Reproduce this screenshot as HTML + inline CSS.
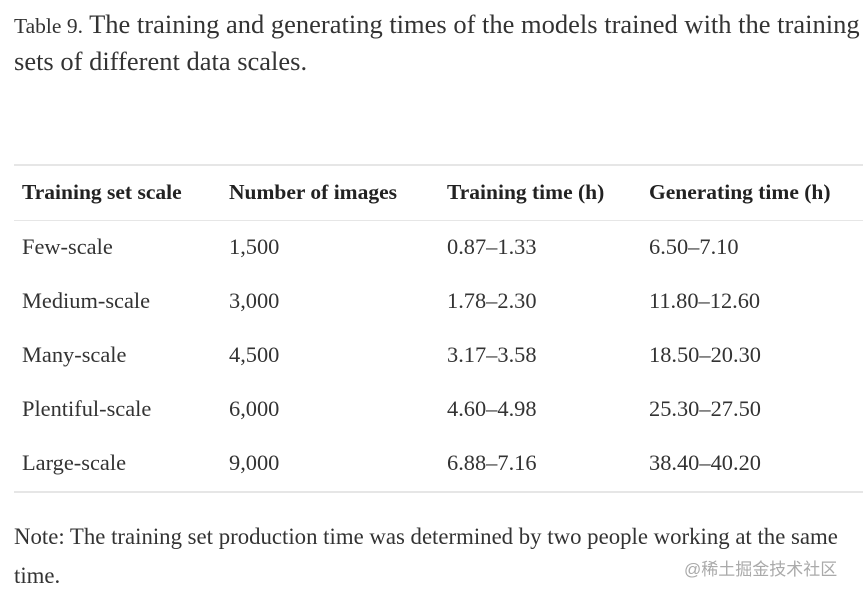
<!DOCTYPE html>
<html><head><meta charset="utf-8"><style>
body{margin:0;background:#fff;width:863px;height:595px;overflow:hidden;position:relative;font-family:"Liberation Serif",serif;color:#333;}
.t{position:absolute;white-space:nowrap;}
.line{position:absolute;left:14px;width:849px;background:#e6e6e6;}
.c{position:absolute;font-size:22.4px;white-space:nowrap;line-height:24px;}
.h{font-weight:bold;color:#222;font-size:21.5px;}
</style></head><body>
<div class="t" style="left:14px;top:7px;font-size:26.5px;line-height:35px;"><span style="font-size:21.5px">Table 9.</span> The training and generating times of the models trained with the training<br>sets of different data scales.</div>
<div class="line" style="top:164px;height:2px"></div>
<div class="line" style="top:220px;height:1px"></div>
<div class="line" style="top:491px;height:2px"></div>
<div class="c h" style="left:22px;top:180px">Training set scale</div>
<div class="c h" style="left:229px;top:180px">Number of images</div>
<div class="c h" style="left:447px;top:180px">Training time (h)</div>
<div class="c h" style="left:649px;top:180px">Generating time (h)</div>

<div class="c" style="left:22px;top:235px">Few-scale</div>
<div class="c" style="left:229px;top:235px">1,500</div>
<div class="c" style="left:447px;top:235px">0.87–1.33</div>
<div class="c" style="left:649px;top:235px">6.50–7.10</div>

<div class="c" style="left:22px;top:289px">Medium-scale</div>
<div class="c" style="left:229px;top:289px">3,000</div>
<div class="c" style="left:447px;top:289px">1.78–2.30</div>
<div class="c" style="left:649px;top:289px">11.80–12.60</div>

<div class="c" style="left:22px;top:343px">Many-scale</div>
<div class="c" style="left:229px;top:343px">4,500</div>
<div class="c" style="left:447px;top:343px">3.17–3.58</div>
<div class="c" style="left:649px;top:343px">18.50–20.30</div>

<div class="c" style="left:22px;top:397px">Plentiful-scale</div>
<div class="c" style="left:229px;top:397px">6,000</div>
<div class="c" style="left:447px;top:397px">4.60–4.98</div>
<div class="c" style="left:649px;top:397px">25.30–27.50</div>

<div class="c" style="left:22px;top:451px">Large-scale</div>
<div class="c" style="left:229px;top:451px">9,000</div>
<div class="c" style="left:447px;top:451px">6.88–7.16</div>
<div class="c" style="left:649px;top:451px">38.40–40.20</div>

<div class="t" style="left:14px;top:517px;font-size:22.8px;line-height:39px;">Note: The training set production time was determined by two people working at the same<br>time.</div>
<div class="t" style="left:684px;top:555px;font-size:17px;color:#aaa;font-family:'Liberation Sans','Noto Sans CJK SC',sans-serif;">@稀土掘金技术社区</div>
</body></html>
